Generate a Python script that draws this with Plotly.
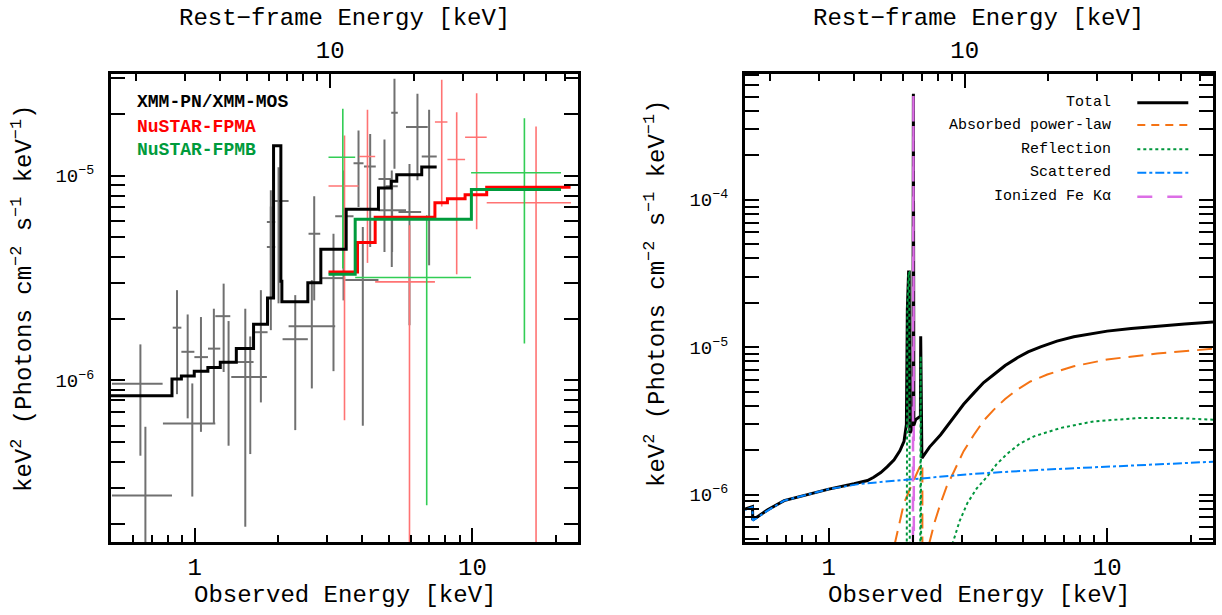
import math
import plotly.graph_objects as go

# ---------------- Left panel data (observed energy keV, keV^2 flux) ----------------
xmm_e   = [0.638, 0.665, 0.864, 0.944, 0.981, 1.054, 1.173, 1.272, 1.325, 1.522, 1.586, 1.732, 1.881, 1.881, 2.005,
           2.303, 2.695, 2.642, 3.162, 3.436, 3.891, 4.032, 4.286, 4.825, 5.126, 5.242, 5.14, 5.937, 6.342, 6.986]
xmm_elo = [0.504, 0.504, 0.834, 0.896, 0.769, 0.998, 1.117, 1.187, 1.237, 1.355, 1.413, 1.640, 1.820, 1.820, 1.935,
           2.073, 2.571, 2.179, 2.833, 3.207, 3.733, 3.484, 4.070, 4.590, 4.865, 5.102, 4.590, 5.419, 5.768, 6.571]
xmm_ehi = [0.767, 0.829, 0.896, 0.998, 1.187, 1.117, 1.237, 1.344, 1.413, 1.820, 1.630, 1.831, 1.951, 1.951, 2.179,
           2.556, 2.833, 3.207, 3.484, 3.733, 4.055, 4.590, 4.489, 5.102, 5.387, 5.387, 5.768, 6.539, 6.906, 7.441]
xmm_f   = [9.63e-7, 2.74e-7, 1.81e-6, 1.38e-6, 6.17e-7, 1.30e-6, 1.43e-6, 2.06e-6, 1.23e-6, 1.04e-6, 1.23e-6, 1.72e-6,
           5.94e-6, 4.48e-6, 7.52e-6, 1.59e-6, 5.21e-6, 1.84e-6, 3.16e-6, 6.33e-6, 1.15e-5, 3.09e-6, 1.11e-5, 9.63e-6,
           8.87e-6, 2.03e-5, 6.77e-6, 6.64e-6, 1.73e-5, 1.24e-5]
xmm_flo = [4.29e-7, 1.0e-7, 8.57e-7, 6.53e-7, 2.71e-7, 5.61e-7, 6.17e-7, 1.10e-6, 4.80e-7, 1.93e-7, 4.37e-7, 7.81e-7,
           2.56e-6, 1.76e-6, 2.38e-6, 5.72e-7, 2.46e-6, 9.14e-7, 1.11e-6, 2.46e-6, 7.03e-6, 6.01e-7, 4.48e-6, 4.24e-6,
           3.58e-6, 1.08e-5, 4.24e-6, 1.86e-6, 9.49e-6, 3.65e-6]
xmm_fhi = [1.50e-6, 5.94e-7, 2.76e-6, 2.10e-6, 9.67e-7, 2.04e-6, 2.24e-6, 2.97e-6, 1.95e-6, 2.24e-6, 1.64e-6, 2.76e-6,
           8.48e-6, 7.08e-6, 1.10e-5, 2.61e-6, 7.93e-6, 3.09e-6, 5.21e-6, 1.06e-5, 1.66e-5, 5.61e-6, 1.60e-5, 1.50e-5,
           1.06e-5, 2.97e-5, 8.90e-6, 1.14e-5, 2.51e-5, 2.10e-5]

fpma_e   = [3.464, 4.191, 5.937, 7.756, 8.780, 10.36, 16.95]
fpma_elo = [3.034, 3.912, 4.467, 7.331, 8.132, 9.413, 11.26]
fpma_ehi = [3.891, 4.467, 7.331, 8.132, 9.413, 11.26, 22.65]
fpma_f   = [8.90e-6, 1.24e-5, 3.03e-6, 1.83e-5, 1.20e-5, 1.54e-5, 7.38e-6]
fpma_flo = [6.40e-7, 3.75e-6, 1.0e-7, 7.08e-6, 3.30e-6, 5.47e-6, 1.0e-7]
fpma_fhi = [1.57e-5, 2.10e-5, 5.72e-6, 2.94e-5, 2.04e-5, 2.53e-5, 1.74e-5]

fpmb_e   = [3.416, 6.848, 15.39]
fpmb_elo = [3.034, 3.785, 9.893]
fpmb_ehi = [3.785, 9.893, 20.85]
fpmb_f   = [1.23e-5, 3.18e-6, 1.034e-5]
fpmb_flo = [3.52e-6, 2.46e-7, 1.515e-6]
fpmb_fhi = [2.12e-5, 6.40e-6, 1.91e-5]

xmm_model_edges = [0.5, 0.829, 0.896, 0.997, 1.116, 1.237, 1.413, 1.630, 1.830, 1.924, 2.044, 2.061, 2.556,
                   2.847, 3.513, 4.590, 5.101, 5.343, 6.571, 7.438]
xmm_model_vals = [8.41e-7, 1.015e-6, 1.050e-6, 1.110e-6, 1.157e-6, 1.228e-6, 1.432e-6, 1.882e-6, 2.528e-6,
                  1.400e-5, 3.050e-6, 2.423e-6, 3.000e-6, 4.369e-6, 6.849e-6, 8.70e-6, 9.38e-6, 1.011e-5, 1.101e-5]
fpma_model_edges = [3.034, 3.858, 4.467, 7.330, 8.131, 9.413, 11.26, 22.57]
fpma_model_vals = [3.387e-6, 4.711e-6, 6.26e-6, 7.38e-6, 7.72e-6, 8.08e-6, 8.77e-6]
fpmb_model_edges = [3.034, 3.785, 9.917, 20.85]
fpmb_model_vals = [3.30e-6, 6.12e-6, 8.57e-6]

# ---------------- Right panel model components ----------------
total_e = [0.5, 0.532, 0.533, 0.603, 0.691, 0.862, 1.0, 1.233, 1.377, 1.450, 1.537, 1.62, 1.716, 1.80, 1.863,
           1.900, 1.915, 1.935, 1.945, 1.955, 1.975, 2.005, 2.013, 2.021, 2.052, 2.134, 2.1385, 2.16, 2.30, 2.522,
           2.816, 3.05, 3.322, 3.60, 3.918, 4.30, 4.755, 5.20, 5.765, 6.60, 7.589, 8.70, 10.0, 12.2, 15.12, 19.0, 24.0]
total_f = [7.96e-7, 8.29e-7, 6.73e-7, 7.87e-7, 9.10e-7, 1.011e-6, 1.088e-6, 1.183e-6, 1.245e-6, 1.31e-6, 1.411e-6,
           1.54e-6, 1.722e-6, 1.98e-6, 2.294e-6, 2.979e-6, 1.805e-5, 3.237e-5, 3.237e-5, 2.616e-6, 2.70e-6, 2.90e-6,
           5.24e-4, 2.95e-6, 3.223e-6, 3.394e-6, 1.188e-5, 1.768e-6, 2.10e-6, 2.547e-6, 3.394e-6, 4.10e-6, 4.896e-6,
           5.75e-6, 6.52e-6, 7.50e-6, 8.47e-6, 9.30e-6, 1.006e-5, 1.10e-5, 1.177e-5, 1.235e-5, 1.285e-5, 1.34e-5,
           1.389e-5, 1.435e-5, 1.479e-5]

abspl_e = [1.72, 1.863, 1.997, 2.1385, 2.169, 2.169, None, 2.291, 2.40, 2.522, 2.65, 2.816, 3.05, 3.322, 3.60,
           3.918, 4.30, 4.755, 5.30, 6.093, 7.589, 10.0, 15.12, 24.0]
abspl_f = [4.5e-7, 8.74e-7, 1.196e-6, 1.592e-6, 1.63e-6, 3.0e-7, None, 4.6e-7, 6.5e-7, 8.74e-7, 1.13e-6, 1.433e-6,
           1.97e-6, 2.547e-6, 3.17e-6, 3.770e-6, 4.45e-6, 5.156e-6, 5.85e-6, 6.52e-6, 7.42e-6, 8.25e-6, 9.06e-6, 9.75e-6]

refl_e = [1.905, 1.915, 1.935, 1.945, 1.955, None, 2.13, 2.1385, 2.147, None, 2.779, 2.95, 3.145, 3.40, 3.711,
          4.0, 4.377, 4.85, 5.453, 6.80, 8.95, 13.17, 17.34, 24.0]
refl_f = [3.0e-7, 1.805e-5, 3.237e-5, 3.237e-5, 3.0e-7, None, 3.0e-7, 8.69e-6, 3.0e-7, None, 4.6e-7, 6.6e-7,
          8.74e-7, 1.10e-6, 1.326e-6, 1.60e-6, 1.892e-6, 2.21e-6, 2.481e-6, 2.829e-6, 3.138e-6, 3.310e-6, 3.310e-6,
          3.223e-6]

scat_e = [0.5, 0.532, 0.533, 0.603, 0.691, 0.862, 1.0, 1.302, 1.916, 3.322, 5.765, 10.0, 24.0]
scat_f = [7.87e-7, 8.21e-7, 6.66e-7, 7.78e-7, 9.10e-7, 1.011e-6, 1.088e-6, 1.183e-6, 1.259e-6, 1.383e-6,
          1.472e-6, 1.550e-6, 1.669e-6]

fek_e = [2.005, 2.013, 2.021]
fek_f = [3.0e-7, 5.24e-4, 3.0e-7]

left_legend = ["XMM-PN/XMM-MOS", "NuSTAR-FPMA", "NuSTAR-FPMB"]
right_legend = ["Total", "Absorbed power-law", "Reflection", "Scattered", "Ionized Fe K\u03b1"]
redshift = 2.25

# ---------------- styling ----------------
FONT = "Liberation Mono"
W, H = 1222, 615


def PX(p):
    return p / W


def PY(p):
    return 1 - p / H


LX = [PX(111), PX(578)]
RX = [PX(745), PX(1213)]
YD = [PY(542), PY(73.5)]
E_RANGE = [0.5, 24.0]

GRAY = "rgb(112,112,112)"
LRED = "rgb(255,115,115)"
LGREEN = "rgb(50,205,85)"
RED = "rgb(255,0,0)"
DGREEN = "rgb(0,155,60)"
ORANGE = "rgb(245,115,20)"
BLUE = "rgb(0,130,255)"
VIOLET = "rgb(220,110,230)"
DRKGREEN = "rgb(0,150,60)"

fig = go.Figure()


def cross(e, elo, ehi, f, flo, fhi, color, width, xa, ya):
    fig.add_trace(go.Scatter(
        x=e, y=f, mode="markers", marker=dict(size=0.1, color=color, opacity=0),
        error_x=dict(type="data", symmetric=False, array=[b - a for a, b in zip(e, ehi)],
                     arrayminus=[a - b for a, b in zip(e, elo)], width=0, thickness=width, color=color),
        error_y=dict(type="data", symmetric=False, array=[b - a for a, b in zip(f, fhi)],
                     arrayminus=[a - b for a, b in zip(f, flo)], width=0, thickness=width, color=color),
        xaxis=xa, yaxis=ya, showlegend=False, hoverinfo="skip"))


def step(edges, vals, color, xa, ya):
    fig.add_trace(go.Scatter(x=edges, y=vals + [vals[-1]], mode="lines", line=dict(shape="hv", color=color, width=3),
                             xaxis=xa, yaxis=ya, showlegend=False, hoverinfo="skip"))


cross(xmm_e, xmm_elo, xmm_ehi, xmm_f, xmm_flo, xmm_fhi, GRAY, 2, "x", "y")
cross(fpma_e, fpma_elo, fpma_ehi, fpma_f, fpma_flo, fpma_fhi, LRED, 1.6, "x", "y")
cross(fpmb_e, fpmb_elo, fpmb_ehi, fpmb_f, fpmb_flo, fpmb_fhi, LGREEN, 1.6, "x", "y")
step(xmm_model_edges, xmm_model_vals, "black", "x", "y")
step(fpma_model_edges, fpma_model_vals, RED, "x", "y")
step(fpmb_model_edges, fpmb_model_vals, DGREEN, "x", "y")

# right panel
fig.add_trace(go.Scatter(x=total_e, y=total_f, mode="lines", line=dict(color="black", width=3),
                         xaxis="x2", yaxis="y2", showlegend=False, hoverinfo="skip"))
fig.add_trace(go.Scatter(x=abspl_e, y=abspl_f, mode="lines", line=dict(color=ORANGE, width=2, dash="15px,8px"),
                         connectgaps=False, xaxis="x2", yaxis="y2", showlegend=False, hoverinfo="skip"))
fig.add_trace(go.Scatter(x=refl_e, y=refl_f, mode="lines", line=dict(color=DRKGREEN, width=2, dash="dot"),
                         connectgaps=False, xaxis="x2", yaxis="y2", showlegend=False, hoverinfo="skip"))
fig.add_trace(go.Scatter(x=scat_e, y=scat_f, mode="lines", line=dict(color=BLUE, width=2, dash="dashdot"),
                         xaxis="x2", yaxis="y2", showlegend=False, hoverinfo="skip"))
fig.add_trace(go.Scatter(x=fek_e, y=fek_f, mode="lines", line=dict(color=VIOLET, width=2.5, dash="longdash"),
                         xaxis="x2", yaxis="y2", showlegend=False, hoverinfo="skip"))

# invisible traces so that the rest-frame axes render
for xa, ya in (("x3", "y"), ("x4", "y2")):
    fig.add_trace(go.Scatter(x=[10], y=[1e-5], mode="markers", marker=dict(opacity=0),
                             xaxis=xa, yaxis=ya, showlegend=False, hoverinfo="skip"))

lg = math.log10
minor_obs = [0.6, 0.7, 0.8, 0.9, 2, 3, 4, 5, 6, 7, 8, 9, 20]
minor_rest = [2, 3, 4, 5, 6, 7, 8, 9, 20, 30, 40, 50, 60, 70]


def xax(domain, anchor, vals, minor, rng, side="bottom", overlay=None, standoff=8):
    d = dict(type="log", range=[lg(rng[0]), lg(rng[1])], side=side, anchor=anchor,
             tickmode="array", tickvals=vals, ticktext=[str(v) for v in vals],
             ticks="inside", ticklen=14, tickwidth=2, tickcolor="black",
             minor=dict(ticks="inside", ticklen=7, tickwidth=2, tickcolor="black", tickmode="array", tickvals=minor),
             showline=True, linewidth=3, linecolor="black", showgrid=False, zeroline=False,
             tickfont=dict(family=FONT, size=24, color="black"), ticklabelstandoff=standoff)
    if overlay:
        d["overlaying"] = overlay
    else:
        d["domain"] = domain
    return d


def yax(anchor, rng, majors, minors):
    return dict(type="log", range=rng, domain=YD, anchor=anchor, tickmode="array", tickvals=majors,
                ticktext=["10<sup>\u2212%d</sup>" % round(-lg(v)) for v in majors],
                ticks="inside", ticklen=14, tickwidth=2, tickcolor="black", mirror="allticks",
                minor=dict(ticks="inside", ticklen=7, tickwidth=2, tickcolor="black", tickmode="array", tickvals=minors),
                showline=True, linewidth=3, linecolor="black", showgrid=False, zeroline=False,
                tickfont=dict(family=FONT, size=19, color="black"), ticklabelstandoff=10)


rest_rng = [E_RANGE[0] * (1 + redshift), E_RANGE[1] * (1 + redshift)]
left_minor_y = [k * 1e-7 for k in range(2, 10)] + [k * 1e-6 for k in range(2, 10)] + [2e-5, 3e-5]
right_minor_y = [k * 1e-7 for k in range(5, 10)] + [k * 1e-6 for k in range(2, 10)] + \
                [k * 1e-5 for k in range(2, 10)] + [k * 1e-4 for k in range(2, 8)]

fig.update_layout(
    width=W, height=H, margin=dict(l=0, r=0, t=0, b=0), showlegend=False,
    paper_bgcolor="white", plot_bgcolor="white",
    xaxis=xax(LX, "y", [1, 10], minor_obs, E_RANGE, standoff=1),
    xaxis2=xax(RX, "y2", [1, 10], minor_obs, E_RANGE, standoff=1),
    xaxis3=xax(None, "y", [10], minor_rest, rest_rng, side="top", overlay="x", standoff=3),
    xaxis4=xax(None, "y2", [10], minor_rest, rest_rng, side="top", overlay="x2", standoff=3),
    yaxis=yax("x", [-6.789, -4.501], [1e-6, 1e-5], left_minor_y),
    yaxis2=yax("x2", [-6.322, -3.143], [1e-6, 1e-5, 1e-4], right_minor_y),
)

ann = []
for cx in ((LX[0] + LX[1]) / 2, (RX[0] + RX[1]) / 2):
    ann.append(dict(x=cx, y=PY(18), xref="paper", yref="paper", text="Rest\u2212frame Energy [keV]",
                    showarrow=False, xanchor="center", yanchor="middle", font=dict(family=FONT, size=24, color="black")))
    ann.append(dict(x=cx, y=PY(595), xref="paper", yref="paper", text="Observed Energy [keV]",
                    showarrow=False, xanchor="center", yanchor="middle", font=dict(family=FONT, size=24, color="black")))
ytitle = "keV<sup>2</sup> (Photons cm<sup>\u22122</sup> s<sup>\u22121</sup> keV<sup>\u22121</sup>)"
for px, py in ((22, 299), (655, 294)):
    ann.append(dict(x=PX(px), y=PY(py), xref="paper", yref="paper", text=ytitle, textangle=-90,
                    showarrow=False, xanchor="center", yanchor="middle", font=dict(family=FONT, size=24, color="black")))

for txt, col, py in zip(left_legend, ["black", RED, DGREEN], [102.3, 126.7, 150]):
    ann.append(dict(x=PX(135), y=PY(py), xref="paper", yref="paper", text="<b>%s</b>" % txt, showarrow=False,
                    xanchor="left", yanchor="middle", font=dict(family=FONT, size=18, color=col)))

shapes = []
styles = [("black", 3, "solid"), (ORANGE, 2, "8px,6px"), (DRKGREEN, 2, "dot"), (BLUE, 2, "dashdot"),
          (VIOLET, 2.5, "longdash")]
for txt, (col, wd, ds), py in zip(right_legend, styles, [102.7, 125, 149.3, 172.7, 196.7]):
    ann.append(dict(x=PX(1113.3), y=PY(py), xref="paper", yref="paper", text=txt, showarrow=False,
                    xanchor="right", yanchor="middle", font=dict(family=FONT, size=15, color="black")))
    shapes.append(dict(type="line", xref="paper", yref="paper", x0=PX(1137.3), x1=PX(1188.3),
                       y0=PY(py), y1=PY(py), line=dict(color=col, width=wd, dash=ds)))

fig.update_layout(annotations=ann, shapes=shapes)
fig.write_html("out.html", config={"displayModeBar": False},
               post_script="document.body.style.margin='0';document.body.style.overflow='hidden';")
